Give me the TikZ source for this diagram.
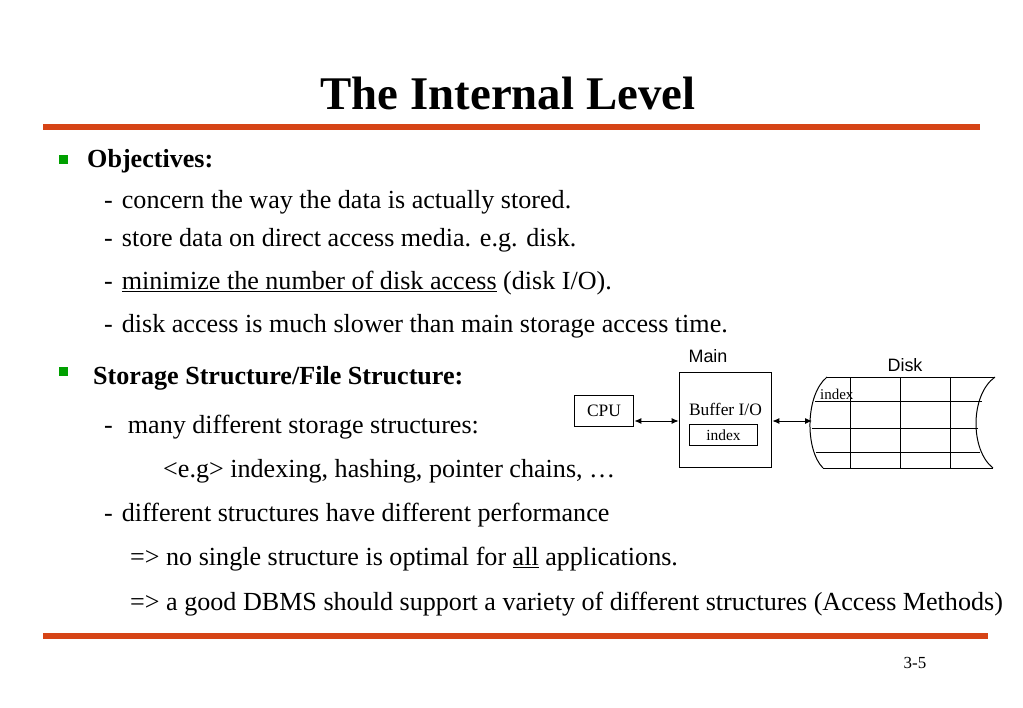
\documentclass[tikz,border=0pt]{standalone}
\usepackage{fontspec}
\setmainfont{Liberation Serif}
\newfontfamily\arialf{Liberation Sans}
\usetikzlibrary{arrows.meta}
\definecolor{rule}{RGB}{214,68,22}
\definecolor{bul}{RGB}{0,160,0}
\begin{document}
\begin{tikzpicture}[x=1bp,y=-1bp,
  txt/.style={anchor=west,inner sep=0pt,font=\fontsize{26.2}{30}\selectfont},
  sm/.style={font=\fontsize{17.5}{19}\selectfont},
  bx/.style={draw,line width=1pt,inner sep=0pt},
  arr/.style={{Latex[length=7bp,width=6bp]}-{Latex[length=7bp,width=6bp]},line width=1pt}]
\useasboundingbox[fill=white] (0,0) rectangle (1023,708);
\node[font=\bfseries\fontsize{47}{50}\selectfont] (title) at (508,93) {The Internal Level};
\draw[rule,line width=6bp] (43,127) -- (980,127);
\draw[rule,line width=6bp] (43,636) -- (988,636);
\fill[bul] (59,155) rectangle (68,164);
\fill[bul] (59,367) rectangle (68,376);
\node[txt,font=\bfseries\fontsize{26.2}{30}\selectfont] (o) at (87,161) {Objectives:};
\node[txt] (l1) at (104,202) {-\hspace{9bp}concern the way the data is actually stored.};
\node[txt] (l2) at (104,240) {-\hspace{9bp}store data on direct access media. e.g. disk.};
\node[txt] (l3) at (104,283) {-\hspace{9bp}\underline{minimize the number of disk access} (disk I/O).};
\node[txt] (l4) at (104,326) {-\hspace{9bp}disk access is much slower than main storage access time.};
\node[txt,font=\bfseries\fontsize{26.2}{30}\selectfont] (s) at (93,378) {Storage Structure/File Structure:};
\node[txt] (l5) at (104,427) {-\hspace{15bp}many different storage structures:};
\node[txt] (l6) at (163,471) {<e.g> indexing, hashing, pointer chains, \dots};
\node[txt] (l7) at (104,515) {-\hspace{9bp}different structures have different performance};
\node[txt] (l8) at (130,559) {=> no single structure is optimal for \underline{all} applications.};
\node[txt] (l9) at (130,604) {=> a good DBMS should support a variety of different structures (Access Methods)};
\node[font=\fontsize{17}{19}\selectfont] (pg) at (915,663) {3-5};
% diagram
\node[bx,minimum width=60,minimum height=32,sm] (cpu) at (604,411) {CPU};
\node[bx,minimum width=93,minimum height=96] (main) at (725.5,420) {};
\node[sm,anchor=base] (buf) at (725.5,415) {Buffer I/O};
\node[bx,minimum width=69,minimum height=22,font=\fontsize{15.5}{17}\selectfont] (idx) at (723.5,435) {index};
\node[font=\arialf\fontsize{18}{20}\selectfont] (mainl) at (708,356) {Main};
\node[font=\arialf\fontsize{18}{20}\selectfont] (diskl) at (905,365) {Disk};
\draw[line width=1pt] (827,377) -- (995,377);
\draw[line width=1pt] (823,468) -- (993,468);
\draw[line width=1pt] (827,377) .. controls (805,395) and (805,450) .. (823,468);
\draw[line width=1pt] (995,377) .. controls (970,395) and (970,450) .. (993,468);
\foreach \xx in {850,900,950} \draw[line width=1pt] (\xx,377) -- (\xx,468);
\draw[line width=1pt] (815,401) -- (982,401);
\draw[line width=1pt] (812,428) -- (978,428);
\draw[line width=1pt] (816,452) -- (980,452);
\coordinate (dleft) at (812,421);
\node[font=\fontsize{15}{17}\selectfont,anchor=base west,inner sep=0pt] (didx) at (820,399) {index};
\draw[arr] (cpu.east|-0,421) -- (main.west|-0,421);
\draw[arr] (main.east|-0,421) -- (dleft);
\end{tikzpicture}
\end{document}
